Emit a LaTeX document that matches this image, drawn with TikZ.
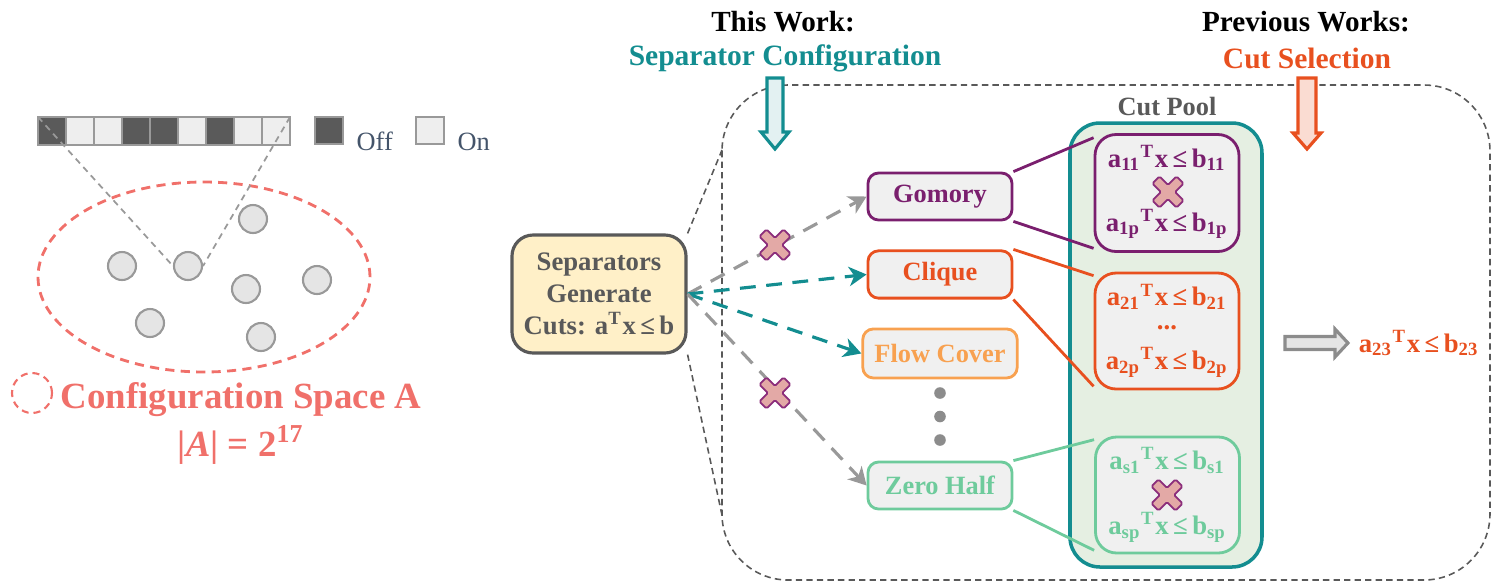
\documentclass[tikz,border=0pt]{standalone}
\usepackage{fontspec}
\setmainfont{Liberation Serif}
\usepackage{tikz}
\usetikzlibrary{arrows.meta,calc,positioning,backgrounds}

\definecolor{tealc}{HTML}{138D90}
\definecolor{purplec}{HTML}{7A1F6E}
\definecolor{redc}{HTML}{E8501F}
\definecolor{orangec}{HTML}{F8A150}
\definecolor{mintc}{HTML}{6ECB9C}
\definecolor{salmonc}{HTML}{F0706A}
\definecolor{graytxt}{HTML}{595959}
\definecolor{slatec}{HTML}{44546A}
\definecolor{boxfill}{HTML}{F0F0F0}
\definecolor{sepfill}{HTML}{FFF0C8}
\definecolor{poolfill}{HTML}{E5EFE2}
\definecolor{xpink}{HTML}{E3A9A6}
\definecolor{xpurple}{HTML}{8B2D7B}
\definecolor{offc}{HTML}{5A5A5A}
\definecolor{onc}{HTML}{EEEEEE}
\definecolor{cellborder}{HTML}{999999}

\newcommand{\ineq}[1]{a\textsubscript{#1}\textsuperscript{T}x\,≤\,b\textsubscript{#1}}

\tikzset{
  sepbox/.style={draw,fill=boxfill,line width=0.8pt,rounded corners=3pt,minimum width=1.44cm,minimum height=0.47cm,font=\fontsize{7.5}{9}\selectfont\bfseries},
  cutbox/.style={draw,fill=boxfill,line width=0.8pt,rounded corners=6pt,minimum width=1.44cm,minimum height=1.17cm},
  ineqtext/.style={font=\fontsize{7.6}{9.2}\selectfont\bfseries,inner sep=0pt},
  genarrow/.style={line width=0.9pt,dash pattern=on 4.5pt off 3pt,-{Stealth[length=5pt,width=5.5pt,inset=1.5pt]}},
  regionline/.style={draw=graytxt,line width=0.45pt,dash pattern=on 1.8pt off 1.2pt},
  point/.style={circle,draw=cellborder,fill=black!10,line width=0.6pt,minimum size=0.28cm,inner sep=0pt},
  crossmark/.pic={\draw[fill=xpink,draw=xpurple,line width=0.5pt,rotate=45,rounded corners=0.4pt]
    (0.05,0.17) -- (0.05,0.05) -- (0.17,0.05) -- (0.17,-0.05) -- (0.05,-0.05) -- (0.05,-0.17) -- (-0.05,-0.17) -- (-0.05,-0.05) -- (-0.17,-0.05) -- (-0.17,0.05) -- (-0.05,0.05) -- (-0.05,0.17) -- cycle;}
}

\begin{document}
\begin{tikzpicture}
\useasboundingbox (0,0) rectangle (14.91,-5.82);

% configuration bar and legend
\foreach \i/\c in {0/offc,1/onc,2/onc,3/offc,4/offc,5/onc,6/offc,7/onc,8/onc}
  \draw[draw=cellborder,fill=\c,line width=0.6pt] ({0.38+0.28*\i},-1.17) rectangle ++(0.28,-0.28);
\coordinate (bartl) at (0.38,-1.17);
\coordinate (bartr) at (2.90,-1.17);
\draw[draw=cellborder,fill=offc,line width=0.6pt] (3.15,-1.17) rectangle (3.43,-1.44);
\draw[draw=cellborder,fill=onc,line width=0.6pt] (4.16,-1.17) rectangle (4.44,-1.44);
\node (offtxt) [anchor=base west,inner sep=0pt,text=slatec,font=\fontsize{7.5}{9}\selectfont] at (3.56,-1.50) {Off};
\node (ontxt) [anchor=base west,inner sep=0pt,text=slatec,font=\fontsize{7.5}{9}\selectfont] at (4.57,-1.50) {On};

% configuration space
\draw[salmonc,line width=0.8pt,dash pattern=on 2.6pt off 1.8pt] (2.04,-2.77) ellipse (1.66 and 0.95);
\foreach \n/\x/\y in {p1/2.53/-2.19,p2/1.22/-2.66,p3/1.88/-2.66,p4/2.46/-2.89,p5/3.17/-2.80,p6/1.50/-3.23,p7/2.61/-3.37}
  \node (\n) [point] at (\x,\y) {};
\draw[cellborder,line width=0.5pt,dash pattern=on 1.8pt off 1.4pt] (bartl) -- (p3.west);
\draw[cellborder,line width=0.5pt,dash pattern=on 1.8pt off 1.4pt] (bartr) -- (p3.east);
\draw[salmonc,line width=0.6pt,dash pattern=on 2pt off 1.4pt] (0.32,-3.93) circle (0.2);
\node (spacename) [text=salmonc,font=\fontsize{10.5}{12}\selectfont\bfseries] at (2.41,-4.00) {Configuration Space A};
\node (spacesize) [text=salmonc,font=\fontsize{10.5}{12}\selectfont\bfseries] at (2.41,-4.45) {|\textit{A}| = 2\textsuperscript{17}};

% headers
\node (thiswork) [font=\fontsize{8.3}{10}\selectfont\bfseries] at (7.83,-0.22) {This Work:};
\node (sepconf) [text=tealc,font=\fontsize{8.4}{10}\selectfont\bfseries] at (7.85,-0.58) {Separator Configuration};
\node (prevwork) [font=\fontsize{8.3}{10}\selectfont\bfseries] at (13.06,-0.22) {Previous Works:};
\node (cutsel) [text=redc,font=\fontsize{8.4}{10}\selectfont\bfseries] at (13.07,-0.58) {Cut Selection};

% dashed region
\coordinate (regtl) at (7.22,-1.50);
\coordinate (regbl) at (7.22,-5.15);
\draw[regionline,rounded corners=0.66cm] (7.22,-0.85) rectangle (14.90,-5.80);

% separators
\node (sep) [draw=graytxt,fill=sepfill,line width=0.9pt,rounded corners=6pt,minimum width=1.66cm,minimum height=1.18cm,
  text=graytxt,align=center,font=\fontsize{7.6}{9.1}\selectfont\bfseries] at (5.99,-2.94)
  {Separators\\Generate\\Cuts: a\textsuperscript{T}x\,≤\,b};
\draw[regionline] (sep.north east) -- (regtl);
\draw[regionline] (sep.south east) -- (regbl);

\node (gomory) [sepbox,draw=purplec,text=purplec] at (9.40,-1.965) {Gomory};
\node (clique) [sepbox,draw=redc,text=redc,below=0.28cm of gomory] {Clique};
\node (flow) [sepbox,draw=orangec,text=orangec,minimum height=0.49cm,below=0.28cm of clique] {Flow Cover};
\node (zero) [sepbox,draw=mintc,text=mintc] at (9.40,-4.855) {Zero Half};
\foreach \y in {-3.93,-4.165,-4.40}
  \fill[black!45] (9.40,\y) circle (0.058);

\draw[genarrow,black!40] (sep.east) -- (gomory.west);
\draw[genarrow,tealc] (sep.east) -- (clique.west);
\draw[genarrow,tealc] (sep.east) -- (flow.west);
\draw[genarrow,black!40] (sep.east) -- (zero.west);
\pic at (7.75,-2.45) {crossmark};
\pic at (7.75,-3.93) {crossmark};

% cut pool
\node (pool) [draw=tealc,fill=poolfill,line width=1pt,rounded corners=0.3cm,minimum width=1.92cm,minimum height=4.44cm] at (11.66,-3.45) {};
\node (poollabel) [text=graytxt,font=\fontsize{7.5}{9}\selectfont\bfseries] at (11.67,-1.07) {Cut Pool};

\node (cut1) [cutbox,draw=purplec] at (11.67,-1.93) {};
\node (cut2) [cutbox,draw=redc,minimum height=1.16cm] at (11.67,-3.31) {};
\node (cut3) [cutbox,draw=mintc,minimum height=1.16cm] at (11.675,-4.95) {};

\node (c11) [ineqtext,text=purplec] at ($(cut1.north)+(0,-0.25)$) {\ineq{11}};
\node (c1p) [ineqtext,text=purplec] at ($(cut1.south)+(0,0.29)$) {\ineq{1p}};
\pic at (11.68,-1.92) {crossmark};
\node (c21) [ineqtext,text=redc] at ($(cut2.north)+(0,-0.25)$) {\ineq{21}};
\node (c2d) [ineqtext,text=redc] at ($(cut2.center)+(0,0.03)$) {...};
\node (c2p) [ineqtext,text=redc] at ($(cut2.south)+(0,0.28)$) {\ineq{2p}};
\node (cs1) [ineqtext,text=mintc] at ($(cut3.north)+(0,-0.25)$) {\ineq{s1}};
\node (csp) [ineqtext,text=mintc] at ($(cut3.south)+(0,0.27)$) {\ineq{sp}};
\pic at (11.67,-4.95) {crossmark};

\draw[purplec,line width=0.8pt] (gomory.north east) -- (cut1.143);
\draw[purplec,line width=0.8pt] (gomory.south east) -- (cut1.217);
\draw[redc,line width=0.8pt] (clique.north east) -- (cut2.143);
\draw[redc,line width=0.8pt] (clique.south east) -- (cut2.217);
\draw[mintc,line width=0.8pt] (zero.north east) -- (cut3.143);
\draw[mintc,line width=0.8pt] (zero.south east) -- (cut3.217);

% selection arrows
\draw[tealc,fill=tealc!12,line width=0.9pt] (7.67,-0.78) -- (7.83,-0.78) -- (7.83,-1.32) -- (7.89,-1.32) -- (7.75,-1.49) -- (7.61,-1.32) -- (7.67,-1.32) -- cycle;
\draw[redc,fill=redc!20,line width=0.9pt] (12.98,-0.78) -- (13.16,-0.78) -- (13.16,-1.33) -- (13.21,-1.33) -- (13.07,-1.49) -- (12.93,-1.33) -- (12.98,-1.33) -- cycle;
\draw[black!45,fill=black!10,line width=0.9pt] (12.85,-3.365) -- (13.35,-3.365) -- (13.35,-3.29) -- (13.48,-3.43) -- (13.35,-3.57) -- (13.35,-3.495) -- (12.85,-3.495) -- cycle;
\node (chosen) [ineqtext,text=redc] at (14.19,-3.43) {\ineq{23}};
\end{tikzpicture}
\end{document}
